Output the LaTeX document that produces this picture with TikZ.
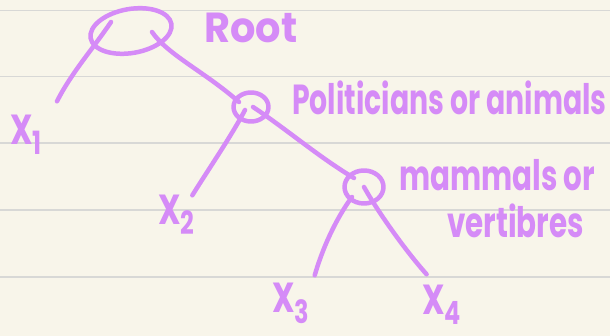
\documentclass[tikz,border=0pt]{standalone}
\usepackage{fontspec}
\usepackage{graphicx}
\setmainfont{Poppins}
\usetikzlibrary{shapes.geometric}
\definecolor{penviolet}{HTML}{D58BF7}
\definecolor{paper}{HTML}{F8F5EA}
\definecolor{ruling}{HTML}{D8D8D6}
\newcommand{\hand}[2][0.75]{\scalebox{#1}[1]{#2}}
\newcommand{\leaf}[2]{\hand{X\raisebox{-10pt}{\fontsize{32}{32}\selectfont #2}}}
\tikzset{
  pen/.style={draw=penviolet, line width=4.5pt, line cap=round, line join=round},
  note/.style={text=penviolet, font=\fontsize{42}{46}\selectfont\bfseries, inner sep=0pt, anchor=base west},
  knot/.style={pen, ellipse, inner sep=0pt}
}
\begin{document}
\begin{tikzpicture}[x=1pt,y=-1pt]
  \fill[paper] (0,0) rectangle (610,336);
  \useasboundingbox (0,0) rectangle (610,336);
  % ruled paper
  \foreach \y in {10.7,76.7,143,210,277}{\draw[ruling, line width=1.5pt] (0,\y) -- (610,\y);}
  % inner nodes
  \node[knot, minimum width=82, minimum height=44, rotate=10] (root) at (131,31) {};
  \node[knot, minimum width=35, minimum height=29] (pol) at (251,107) {};
  \node[knot, minimum width=39, minimum height=33] (mam) at (364,187) {};
  % labels
  \node[note] (root text) at (204,43) {\hand[0.95]{Root}};
  \node[note] (pol text) at (292,115) {\hand[0.675]{Politicians or animals}};
  \node[note] (mam text) at (399,191) {\hand[0.7]{mammals or}};
  \node[note] (mam text2) at (447,238) {\hand[0.7]{vertibres}};
  % leaves
  \node[note] (x1) at (10,145) {\leaf{X}{1}};
  \node[note] (x2) at (158,225) {\leaf{X}{2}};
  \node[note] (x3) at (272,313) {\leaf{X}{3}};
  \node[note] (x4) at (422,315) {\leaf{X}{4}};
  % branches
  \draw[pen] ([shift={(-20,-9)}]root.center) .. controls (92,50) and (72,72) .. ([shift={(31,-14)}]x1.north);
  \draw[pen] ([shift={(21,1)}]root.center) .. controls (168,55) and (205,72) .. ([shift={(-12,-5)}]pol.center);
  \draw[pen] ([shift={(-6,3)}]pol.center) .. controls (232,135) and (208,170) .. ([shift={(16,0)}]x2.north);
  \draw[pen] ([shift={(2,0)}]pol.center) .. controls (285,128) and (320,158) .. ([shift={(-10,-9)}]mam.center);
  \draw[pen] ([shift={(-12,10)}]mam.center) .. controls (335,220) and (322,250) .. ([shift={(24,-8)}]x3.north);
  \draw[pen] ([shift={(0,0)}]mam.center) .. controls (378,212) and (405,250) .. ([shift={(-15,-11)}]x4.north);
\end{tikzpicture}
\end{document}
